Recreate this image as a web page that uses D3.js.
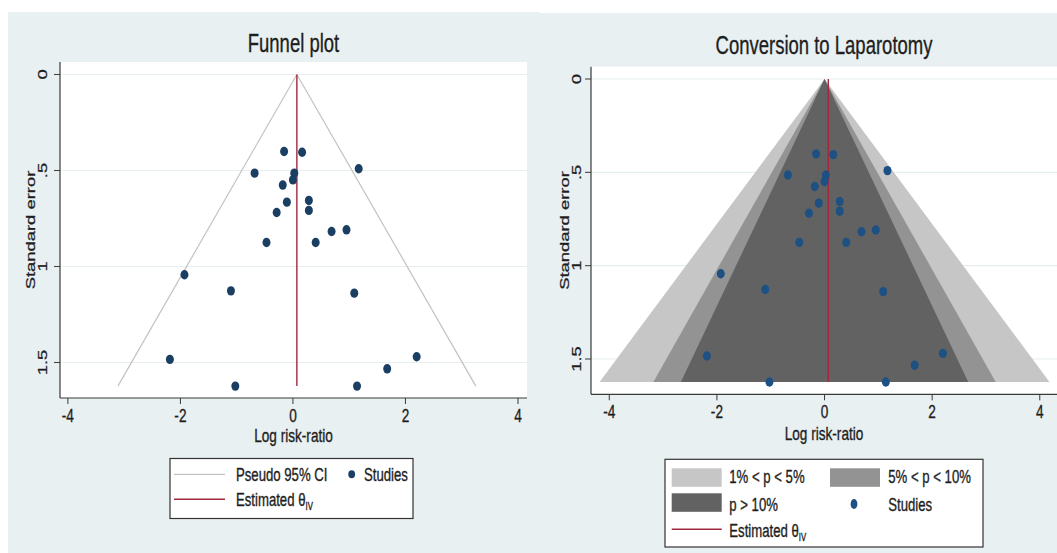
<!DOCTYPE html>
<html><head><meta charset="utf-8">
<script src="https://cdn.jsdelivr.net/npm/d3@7"></script>
<style>
body{margin:0;background:#fff;}
svg text{font-family:"Liberation Sans",Arial,sans-serif;fill:#1e1e1e;stroke:#1e1e1e;stroke-width:0.35px;}
</style></head><body>
<svg id="chart" width="1057" height="553"></svg>
<script>
// Study estimates: log risk-ratio and its standard error
const logRR  = [-0.157, 0.163, 1.169, -0.681, 0.024, 0.000, -0.181, 0.283, -0.108, 0.283, -0.289,
                0.952, 0.687, -0.470, 0.404, -1.928, -1.102, 1.090, -2.187, 2.199, 1.675, -1.024, 1.139];
const stdErr = [0.401, 0.405, 0.491, 0.514, 0.514, 0.549, 0.576, 0.656, 0.665, 0.708, 0.719,
                0.809, 0.818, 0.875, 0.875, 1.043, 1.127, 1.139, 1.484, 1.470, 1.533, 1.623, 1.623];
const thetaIV = 0.07;      // inverse-variance pooled estimate
const seMax = 1.623;       // funnel depth
const ciZ = 1.96;          // pseudo 95% CI
const contourZ = [2.576, 1.96, 1.645];
const contourLabels = ["1% < p < 5%", "5% < p < 10%", "p > 10%"];
const contourColors = ["#c6c6c6", "#939393", "#626262"];
const xTicks = [-4, -2, 0, 2, 4];
const xTickLabels = ["-4", "-2", "0", "2", "4"];
const yTicks = [0, 0.5, 1, 1.5];
const yTickLabels = ["0", ".5", "1", "1.5"];
const titles = ["Funnel plot", "Conversion to Laparotomy"];
const xTitle = "Log risk-ratio";
const yTitle = "Standard error";

const BG = "#e9f0f2", GRID = "#e6eef0", AXIS = "#3a3a3a", RED = "#a2283b", CI = "#c2c2c2";
const SX = 0.74;           // horizontal squeeze of the lettering
const svg = d3.select("#chart");
const studies = logRR.map((v, i) => ({x: v, se: stdErr[i]}));

// text placed in a horizontally squeezed frame; rot turns it to read bottom-up
function txt(parent, x, y, str, size, anchor = "start", rot = false) {
  const g = parent.append("g")
    .attr("transform", `translate(${x},${y}) scale(${SX},1)` + (rot ? " rotate(-90)" : ""));
  return g.append("text").attr("text-anchor", anchor).attr("font-size", size).text(str);
}

const panels = [
  {bg: [8, 12, 532, 541], plot: [60, 62, 527, 398], xDom: [-4.14, 4.16], yDom: [-0.065, 1.685],
   title: titles[0], titleY: 52, tickY: 421.5, xTitleY: 442, yTitleX: 35, yTickX: 46.5, dot: "#1b3f63", contour: false},
  {bg: [527, 13, 530, 540], plot: [591, 66.7, 1057, 394.3], xDom: [-4.34, 4.32], yDom: [-0.066, 1.689],
   title: titles[1], titleY: 54, tickY: 418, xTitleY: 440, yTitleX: 569, yTickX: 581, dot: "#1d5183", contour: true}
];

panels.forEach(p => {
  const g = svg.append("g");
  g.append("rect").attr("x", p.bg[0]).attr("y", p.bg[1]).attr("width", p.bg[2]).attr("height", p.bg[3]).attr("fill", BG);
  const [x0, y0, x1, y1] = p.plot;
  g.append("rect").attr("x", x0).attr("y", y0).attr("width", x1 - x0).attr("height", y1 - y0).attr("fill", "#fff");
  const x = d3.scaleLinear().domain(p.xDom).range([x0, x1]);
  const y = d3.scaleLinear().domain(p.yDom).range([y0, y1]);
  const lineGen = d3.line().x(d => x(d[0])).y(d => y(d[1]));

  // gridlines
  g.selectAll(".grid").data(yTicks).join("line")
    .attr("x1", x0).attr("x2", x1).attr("y1", d => y(d)).attr("y2", d => y(d))
    .attr("stroke", GRID).attr("stroke-width", 1.2);

  if (p.contour) {
    // significance contours around the null
    contourZ.forEach((z, i) => {
      g.append("path").attr("d", lineGen([[0, 0], [-z * seMax, seMax], [z * seMax, seMax]]) + "Z")
        .attr("fill", contourColors[i]);
    });
  } else {
    [-1, 1].forEach(s => {
      g.append("path").attr("d", lineGen([[thetaIV, 0], [thetaIV + s * ciZ * seMax, seMax]]))
        .attr("fill", "none").attr("stroke", CI).attr("stroke-width", 1.2);
    });
  }

  // pooled estimate
  g.append("line").attr("x1", x(thetaIV)).attr("x2", x(thetaIV)).attr("y1", y(0)).attr("y2", y(seMax))
    .attr("stroke", RED).attr("stroke-width", 1.4);

  // studies
  g.selectAll(".study").data(studies).join("ellipse")
    .attr("cx", d => x(d.x)).attr("cy", d => y(d.se)).attr("rx", 4).attr("ry", 4.7)
    .attr("fill", p.dot);

  // axes
  g.append("line").attr("x1", x0).attr("x2", x0).attr("y1", y0).attr("y2", y1).attr("stroke", AXIS).attr("stroke-width", 1.2);
  g.append("line").attr("x1", x0).attr("x2", x1).attr("y1", y1).attr("y2", y1).attr("stroke", AXIS).attr("stroke-width", 1.2);
  g.selectAll(".yt").data(yTicks).join("line")
    .attr("x1", x0 - 6).attr("x2", x0).attr("y1", d => y(d)).attr("y2", d => y(d)).attr("stroke", AXIS);
  g.selectAll(".xt").data(xTicks).join("line")
    .attr("x1", d => x(d)).attr("x2", d => x(d)).attr("y1", y1).attr("y2", y1 + 6).attr("stroke", AXIS);
  xTicks.forEach((d, i) => txt(g, x(d), p.tickY, xTickLabels[i], 18.4, "middle"));
  yTicks.forEach((d, i) => txt(g, p.yTickX, y(d), yTickLabels[i], 18.4, "middle", true));
  txt(g, (x0 + x1) / 2, p.xTitleY, xTitle, 18.4, "middle");
  txt(g, p.yTitleX, (y0 + y1) / 2, yTitle, 18.4, "middle", true);
  txt(g, (x0 + x1) / 2, p.titleY, p.title, 25, "middle").attr("fill", "#2a2a2a").attr("stroke", "#2a2a2a");
});

// label with subscripted θ
function thetaLabel(sel, tx, ty) {
  const t = txt(sel, tx, ty, "", 17.8);
  t.append("tspan").text("Estimated θ");
  t.append("tspan").attr("font-size", 10.5).attr("dy", 4).text("IV");
}

// legend of the plain funnel
{
  const L = svg.append("g");
  L.append("rect").attr("x", 170).attr("y", 458.5).attr("width", 243).attr("height", 60)
    .attr("fill", "#fff").attr("stroke", "#333").attr("stroke-width", 1.2);
  L.append("line").attr("x1", 174).attr("x2", 225).attr("y1", 474.3).attr("y2", 474.3).attr("stroke", CI).attr("stroke-width", 1.3);
  txt(L, 236, 480.5, "Pseudo 95% CI", 17.8);
  L.append("ellipse").attr("cx", 351.7).attr("cy", 474.3).attr("rx", 3.4).attr("ry", 4).attr("fill", panels[0].dot);
  txt(L, 364, 480.5, "Studies", 17.8);
  L.append("line").attr("x1", 174).attr("x2", 225).attr("y1", 499.3).attr("y2", 499.3).attr("stroke", RED).attr("stroke-width", 1.4);
  thetaLabel(L, 236, 505.5);
}

// legend of the contour-enhanced funnel
{
  const L = svg.append("g");
  L.append("rect").attr("x", 665).attr("y", 459.3).attr("width", 318).attr("height", 87.7)
    .attr("fill", "#fff").attr("stroke", "#333").attr("stroke-width", 1.2);
  const slots = [[671.7, 468.3, 729.3, 483.3], [830, 468.3, 888.3, 483.3], [671.7, 493.3, 729.3, 510.5]];
  contourLabels.forEach((lab, i) => {
    const s = slots[i];
    L.append("rect").attr("x", s[0]).attr("y", s[1]).attr("width", 50).attr("height", 18.5).attr("fill", contourColors[i]);
    txt(L, s[2], s[3], lab, 17.8);
  });
  L.append("ellipse").attr("cx", 854).attr("cy", 504).attr("rx", 3.4).attr("ry", 5).attr("fill", panels[1].dot);
  txt(L, 888.3, 510.5, "Studies", 17.8);
  L.append("line").attr("x1", 671.7).attr("x2", 721.7).attr("y1", 529.3).attr("y2", 529.3).attr("stroke", RED).attr("stroke-width", 1.4);
  thetaLabel(L, 729.3, 537);
}
</script>
</body></html>
